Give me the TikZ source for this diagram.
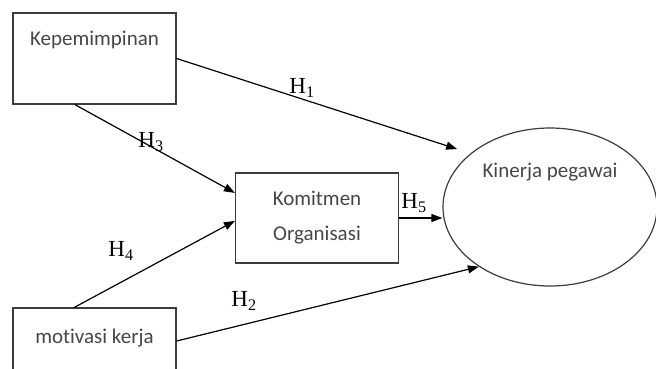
\documentclass[tikz,border=0pt]{standalone}
\usepackage{fontspec}
\setmainfont{Liberation Serif}
\newfontfamily\calib[Ligatures=NoCommon]{Carlito}
\usepackage{tikz}
\usetikzlibrary{positioning,arrows.meta,calc,shapes.geometric}
\definecolor{kmText}{RGB}{70,70,70}
\definecolor{kmLine}{RGB}{60,60,60}

\begin{document}
\begin{tikzpicture}[
    x=1pt, y=-1pt,
    line width=1.2pt,
    construct/.style={rectangle, draw=kmLine, line width=1.2pt, minimum width=163pt, minimum height=91pt, inner sep=0pt, font=\calib\fontsize{21}{24}\selectfont, text=kmText},
    outcome/.style={ellipse, draw=kmLine, line width=1.2pt, minimum width=214pt, minimum height=158pt, inner sep=0pt},
    inner text/.style={font=\calib\fontsize{21}{24}\selectfont, text=kmText, inner sep=0pt},
    path note/.style={font=\fontsize{23}{25}\selectfont, inner sep=0pt},
    >={Triangle[length=11pt,width=8pt]}
]
  \clip (0,0) rectangle (656,368);

  \node[construct, label={[inner text, anchor=center, yshift=-28pt]north:Kepemimpinan}] (kep) at (94.5,58.5) {};
  \node[construct, minimum height=90pt, align=center] (kom) at (317,218) {Komitmen\\[11pt]Organisasi};
  \node[construct, minimum height=66pt, text depth=9pt] (mot) at (94.5,341) {motivasi kerja};
  \node[outcome, label={[inner text, anchor=center, yshift=-45pt]north:Kinerja pegawai}] (kin) at (550,207) {};

  \draw[->, shorten >=14pt] (kep.east) -- (kin.146);
  \draw[->] (kep.-113) -- (kom.163);
  \draw[->] (mot.121) -- (kom.182);
  \draw[->] (mot.east) -- (kin.220);
  \draw[->] (kom.east) -- (kom.east -| kin.west);

  \node[path note] (h1) at (302,88) {H\textsubscript{1}};
  \node[path note] (h2) at (244,301) {H\textsubscript{2}};
  \node[path note] (h3) at (151,142) {H\textsubscript{3}};
  \node[path note] (h4) at (121,251) {H\textsubscript{4}};
  \node[path note] (h5) at (414,203) {H\textsubscript{5}};
\end{tikzpicture}
\end{document}
